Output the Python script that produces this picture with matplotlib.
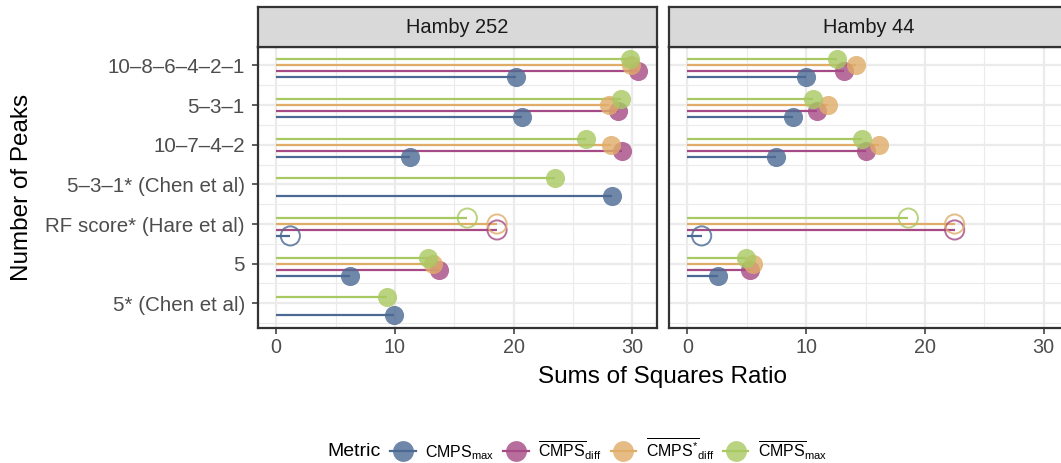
import numpy as np
import matplotlib
matplotlib.use("Agg")
import matplotlib.pyplot as plt
from matplotlib.lines import Line2D
from matplotlib.colors import to_rgba

plt.rcParams['font.family'] = ['Liberation Sans', 'DejaVu Sans']
plt.rcParams['mathtext.fontset'] = 'custom'
plt.rcParams['mathtext.rm'] = 'Liberation Sans'
plt.rcParams['mathtext.it'] = 'Liberation Sans:italic'
plt.rcParams['mathtext.bf'] = 'Liberation Sans:bold'

# ---------------- data ----------------
peaks = ['10–8–6–4–2–1', '5–3–1', '10–7–4–2', '5–3–1* (Chen et al)',
         'RF score* (Hare et al)', '5', '5* (Chen et al)']
hollow_rows = ['RF score* (Hare et al)']
panels = ['Hamby 252', 'Hamby 44']
metric_labels = [r'$\mathrm{CMPS}_{\mathrm{max}}$',
                 r'$\overline{\mathrm{CMPS}}_{\mathrm{diff}}$',
                 r'$\overline{\mathrm{CMPS}^{*}}_{\mathrm{diff}}$',
                 r'$\overline{\mathrm{CMPS}}_{\mathrm{max}}$']
metric_colors = ['#4B6992', '#A54A84', '#E0AC68', '#A8C962']
nan = np.nan
h252_cmps_max      = [20.2, 20.7, 11.3, 28.3, 1.2, 6.2, 9.9]
h252_bar_diff      = [30.5, 28.8, 29.1, nan, 18.6, 13.7, nan]
h252_bar_diff_star = [29.9, 28.0, 28.2, nan, 18.6, 13.2, nan]
h252_bar_max       = [29.8, 29.0, 26.1, 23.5, 16.1, 12.8, 9.3]
h44_cmps_max       = [10.0, 8.9, 7.5, nan, 1.2, 2.6, nan]
h44_bar_diff       = [13.2, 10.9, 15.0, nan, 22.5, 5.3, nan]
h44_bar_diff_star  = [14.2, 11.8, 16.1, nan, 22.5, 5.5, nan]
h44_bar_max        = [12.6, 10.6, 14.7, nan, 18.6, 4.9, nan]
panel_data = {
    'Hamby 252': [h252_cmps_max, h252_bar_diff, h252_bar_diff_star, h252_bar_max],
    'Hamby 44': [h44_cmps_max, h44_bar_diff, h44_bar_diff_star, h44_bar_max],
}
dodge = [0.30, 0.15, 0.0, -0.15]   # vertical offset per metric

# ---------------- layout ----------------
W, H = 1061, 463
fig = plt.figure(figsize=(W / 100, H / 100), dpi=100)
fig.patch.set_facecolor('white')

def fx(px):
    return px / W

def fy(py):
    return 1 - py / H

panel_top, panel_bot = 46.7, 328.0
panel_w = 398.5
panel_lefts = [258.0, 669.3]
strip_top = 7.5

grid_col = '#EBEBEB'
border_col = '#333333'
tick_text_col = '#4D4D4D'

ymin_data, ymax_data = -0.15, 6.3
yexp = 0.05 * (ymax_data - ymin_data)
xmax_data = np.nanmax([np.nanmax(v) for vs in panel_data.values() for v in vs])
xexp = 0.05 * xmax_data

axes = []
for k, (pname, left) in enumerate(zip(panels, panel_lefts)):
    ax = fig.add_axes([fx(left), fy(panel_bot), panel_w / W, (panel_bot - panel_top) / H])
    axes.append(ax)
    ax.set_xlim(-xexp, xmax_data + xexp)
    ax.set_ylim(ymax_data + yexp, ymin_data - yexp)
    ax.set_xticks([0, 10, 20, 30])
    ax.set_xticks([5, 15, 25], minor=True)
    ax.set_yticks(range(len(peaks)))
    ax.set_yticks(np.arange(0.5, len(peaks), 1.0), minor=True)
    ax.grid(True, which='major', color=grid_col, lw=1.6, zorder=0)
    ax.grid(True, which='minor', color=grid_col, lw=0.8, zorder=0)
    ax.set_axisbelow(True)
    for s in ax.spines.values():
        s.set_color(border_col)
        s.set_linewidth(1.6)
    ax.tick_params(which='major', length=4.5, width=1.1, color=border_col,
                   labelsize=14.2, labelcolor=tick_text_col, pad=3)
    ax.tick_params(axis='y', which='major', labelsize=14.8, pad=5)
    ax.tick_params(which='minor', length=0)
    if k == 0:
        ax.set_yticklabels(peaks)
    else:
        ax.set_yticklabels([])
        ax.tick_params(axis='y', which='major', length=0)

    vals = panel_data[pname]
    ypos = np.arange(len(peaks))
    # segments
    for m, v in enumerate(vals):
        v = np.asarray(v, dtype=float)
        ok = ~np.isnan(v)
        ax.hlines(ypos[ok] + dodge[m], 0, v[ok], color=metric_colors[m], lw=1.6, zorder=2)
    # points
    for m, v in enumerate(vals):
        v = np.asarray(v, dtype=float)
        for i, val in enumerate(v):
            if np.isnan(val):
                continue
            if peaks[i] in hollow_rows:
                ax.scatter(val, ypos[i] + dodge[m], s=190, facecolors='none',
                           edgecolors=to_rgba(metric_colors[m], 0.8), linewidths=1.4, zorder=3)
            else:
                ax.scatter(val, ypos[i] + dodge[m], s=190, color=to_rgba(metric_colors[m], 0.8),
                           linewidths=0, zorder=3)

    # strip
    sax = fig.add_axes([fx(left), fy(panel_top), panel_w / W, (panel_top - strip_top) / H])
    sax.set_facecolor('#D9D9D9')
    sax.set_xticks([]); sax.set_yticks([])
    for s in sax.spines.values():
        s.set_color(border_col)
        s.set_linewidth(1.6)
    sax.text(0.5, 0.5, pname, ha='center', va='center', fontsize=14.4, color='#1A1A1A',
             transform=sax.transAxes)

# axis titles
fig.text(fx(663), fy(383), 'Sums of Squares Ratio', ha='center', va='baseline', fontsize=17.5)
fig.text(fx(22), fy(187), 'Number of Peaks', ha='center', va='center', rotation=90, fontsize=17.5)

# legend
fig.text(fx(327), fy(451), 'Metric', ha='left', va='center', fontsize=14)
handles = [Line2D([0], [0], color=c, lw=1.6, marker='o', markersize=15,
                  markerfacecolor=to_rgba(c, 0.8), markeredgewidth=0) for c in metric_colors]
fig.legend(handles, metric_labels, loc='center left', bbox_to_anchor=(fx(390), fy(449)),
           ncol=4, frameon=False, fontsize=11.5, handlelength=1.6, handletextpad=0.6,
           columnspacing=0.55, borderaxespad=0, borderpad=0)

fig.savefig('out.png', dpi=100)
